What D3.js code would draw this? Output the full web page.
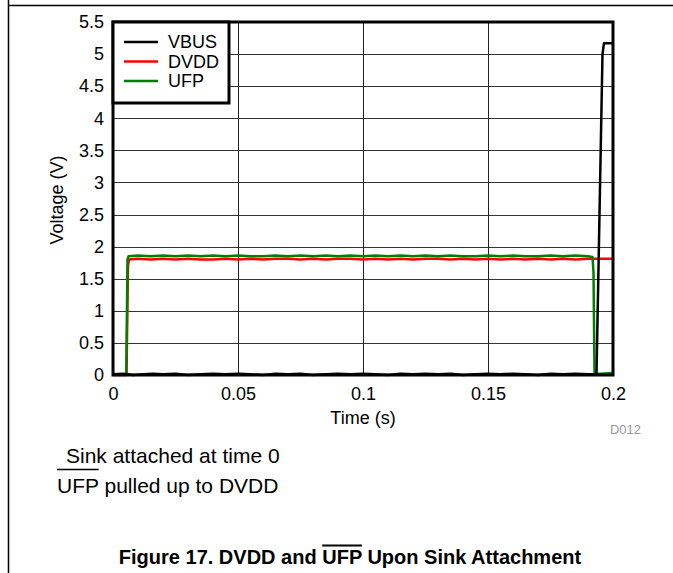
<!DOCTYPE html>
<html><head><meta charset="utf-8">
<script src="https://cdn.jsdelivr.net/npm/d3@7"></script>
<style>body{margin:0;background:#fff}svg{display:block;font-family:"Liberation Sans",Arial,sans-serif}</style>
</head><body>
<svg id="c" width="673" height="573"></svg>
<script>
const xTicks = [0, 0.05, 0.1, 0.15, 0.2];
const xTickLabels = ["0", "0.05", "0.1", "0.15", "0.2"];
const yTicks = [0, 0.5, 1, 1.5, 2, 2.5, 3, 3.5, 4, 4.5, 5, 5.5];
const yTickLabels = ["0", "0.5", "1", "1.5", "2", "2.5", "3", "3.5", "4", "4.5", "5", "5.5"];
const seriesNames = ["VBUS", "DVDD", "UFP"];
const seriesColors = ["#000000", "#ff0000", "#008000"];

const vbus = [[0,0.01],[0.004,0.02],[0.008,0.0],[0.012,0.01],[0.016,0.02],[0.02,0.01],[0.025,0.02],[0.03,0.0],[0.035,0.01],[0.04,0.02],[0.045,0.01],[0.05,0.02],[0.055,0.01],[0.06,0.0],[0.065,0.02],[0.07,0.01],[0.075,0.02],[0.08,0.0],[0.085,0.01],[0.09,0.02],[0.095,0.01],[0.1,0.02],[0.105,0.01],[0.11,0.0],[0.115,0.02],[0.12,0.01],[0.125,0.02],[0.13,0.01],[0.135,0.02],[0.14,0.0],[0.145,0.01],[0.15,0.02],[0.155,0.01],[0.16,0.02],[0.165,0.01],[0.17,0.0],[0.175,0.02],[0.18,0.01],[0.185,0.02],[0.19,0.01],[0.1934,0.01],[0.1958,5.0],[0.1964,5.17],[0.2,5.17]];
const dvdd = [[0,0],[0.0054,0],[0.006,1.7],[0.0064,1.8],[0.01,1.81],[0.015,1.8],[0.02,1.81],[0.025,1.8],[0.03,1.81],[0.035,1.8],[0.04,1.8],[0.045,1.81],[0.05,1.8],[0.055,1.81],[0.06,1.8],[0.065,1.81],[0.07,1.81],[0.075,1.8],[0.08,1.81],[0.085,1.8],[0.09,1.81],[0.095,1.81],[0.1,1.8],[0.105,1.81],[0.11,1.8],[0.115,1.81],[0.12,1.8],[0.125,1.81],[0.13,1.81],[0.135,1.8],[0.14,1.81],[0.145,1.8],[0.15,1.81],[0.155,1.8],[0.16,1.81],[0.165,1.8],[0.17,1.81],[0.175,1.8],[0.18,1.81],[0.185,1.8],[0.19,1.81],[0.195,1.81],[0.2,1.81]];
const ufp = [[0,0.01],[0.0053,0.01],[0.0058,1.8],[0.0062,1.85],[0.01,1.86],[0.015,1.85],[0.02,1.86],[0.025,1.85],[0.03,1.86],[0.035,1.85],[0.04,1.86],[0.045,1.85],[0.05,1.86],[0.055,1.85],[0.06,1.85],[0.065,1.86],[0.07,1.85],[0.075,1.86],[0.08,1.85],[0.085,1.86],[0.09,1.85],[0.095,1.86],[0.1,1.85],[0.105,1.86],[0.11,1.85],[0.115,1.86],[0.12,1.85],[0.125,1.86],[0.13,1.85],[0.135,1.86],[0.14,1.85],[0.145,1.85],[0.15,1.86],[0.155,1.85],[0.16,1.86],[0.165,1.85],[0.17,1.85],[0.175,1.86],[0.18,1.85],[0.185,1.86],[0.19,1.85],[0.1918,1.84],[0.1922,1.6],[0.1926,0.02],[0.195,0.02],[0.2,0.03]];
const seriesData = [vbus, dvdd, ufp];

const svg = d3.select("#c");
const L = 113, R = 613, T = 22, B = 375;
const x = d3.scaleLinear().domain([0, 0.2]).range([L, R]);
const y = d3.scaleLinear().domain([0, 5.5]).range([B, T]);

// page frame
svg.append("line").attr("x1",8.5).attr("x2",8.5).attr("y1",0).attr("y2",573).attr("stroke","#000").attr("stroke-width",1.5);
svg.append("line").attr("x1",8).attr("x2",673).attr("y1",5.5).attr("y2",5.5).attr("stroke","#000").attr("stroke-width",1.5);

// grid
const g = svg.append("g").attr("shape-rendering","crispEdges");
g.selectAll(".hg").data(yTicks.slice(1,-1)).join("line")
  .attr("x1",L).attr("x2",R).attr("y1",d=>Math.round(y(d))+0.5).attr("y2",d=>Math.round(y(d))+0.5)
  .attr("stroke","#333").attr("stroke-width",1);
g.selectAll(".vg").data(xTicks.slice(1,-1)).join("line")
  .attr("y1",T).attr("y2",B).attr("x1",d=>Math.round(x(d))+0.5).attr("x2",d=>Math.round(x(d))+0.5)
  .attr("stroke","#222").attr("stroke-width",1);

// axes labels
const xa = d3.axisBottom(x).tickValues(xTicks).tickFormat((d,i)=>xTickLabels[i]).tickSize(0).tickPadding(12);
svg.append("g").attr("transform",`translate(0,${B})`).call(xa)
  .call(s=>s.select(".domain").remove())
  .selectAll("text").attr("font-size",18).attr("font-family","Liberation Sans, Arial").attr("fill","#000");
const ya = d3.axisLeft(y).tickValues(yTicks).tickFormat((d,i)=>yTickLabels[i]).tickSize(0).tickPadding(9);
svg.append("g").attr("transform",`translate(${L},0)`).call(ya)
  .call(s=>s.select(".domain").remove())
  .selectAll("text").attr("font-size",18).attr("font-family","Liberation Sans, Arial").attr("fill","#000");

// lines
const line = d3.line().x(d=>x(d[0])).y(d=>y(d[1]));
const order = [1,2,0];
order.forEach(i=>{
  svg.append("path").datum(seriesData[i]).attr("d",line).attr("fill","none")
    .attr("stroke",seriesColors[i]).attr("stroke-width",2.5).attr("stroke-linejoin","round");
});

// plot border
svg.append("rect").attr("x",L).attr("y",T).attr("width",R-L).attr("height",B-T)
  .attr("fill","none").attr("stroke","#000").attr("stroke-width",3);

// legend
const lg = svg.append("g");
lg.append("rect").attr("x",L).attr("y",T).attr("width",116).attr("height",81)
  .attr("fill","#fff").attr("stroke","#000").attr("stroke-width",3);
seriesNames.forEach((n,i)=>{
  const yy = 42 + i*19.5;
  lg.append("line").attr("x1",124).attr("x2",158).attr("y1",yy).attr("y2",yy)
    .attr("stroke",seriesColors[i]).attr("stroke-width",2.5);
  lg.append("text").attr("x",168).attr("y",yy).attr("dy","0.36em").attr("font-size",18).text(n);
});

// axis titles
svg.append("text").attr("x",363).attr("y",424).attr("text-anchor","middle").attr("font-size",18).text("Time (s)");
svg.append("text").attr("transform","translate(63,200) rotate(-90)").attr("text-anchor","middle").attr("font-size",18).text("Voltage (V)");
svg.append("text").attr("x",641).attr("y",434).attr("text-anchor","end").attr("font-size",13).attr("fill","#999").text("D012");

// helper: overline drawn manually above a tspan
function overline(tspan, yLine, w) {
  const node = tspan.node();
  const n = node.getNumberOfChars();
  const s = node.getStartPositionOfChar(0).x;
  const e = node.getEndPositionOfChar(n - 1).x;
  svg.append("line").attr("x1", s).attr("x2", e).attr("y1", yLine).attr("y2", yLine)
    .attr("stroke", "#000").attr("stroke-width", w);
}

// notes
svg.append("text").attr("x",66).attr("y",463).attr("font-size",21).text("Sink attached at time 0");
const t2 = svg.append("text").attr("x",57).attr("y",493).attr("font-size",21);
const u1 = t2.append("tspan").text("UFP");
t2.append("tspan").text(" pulled up to DVDD");
overline(u1, 469.5, 1.6);

// caption
const cap = svg.append("text").attr("x",350).attr("y",564).attr("text-anchor","middle").attr("font-size",20).attr("font-weight","bold");
cap.append("tspan").text("Figure 17. DVDD and ");
const u2 = cap.append("tspan").text("UFP");
cap.append("tspan").text(" Upon Sink Attachment");
overline(u2, 545.5, 1.8);
</script>
</body></html>
